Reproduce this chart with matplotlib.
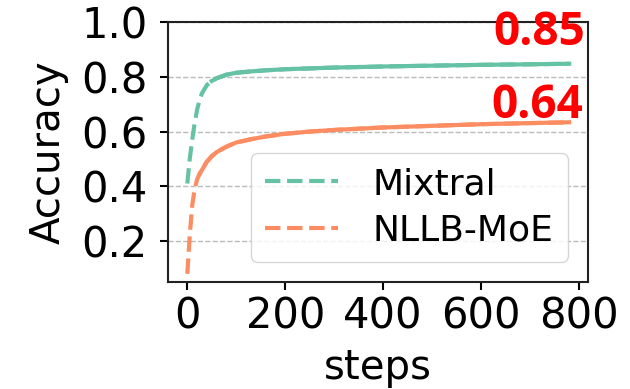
import matplotlib
matplotlib.use("Agg")
import matplotlib.pyplot as plt

# accuracy curves
steps = [0, 5, 10, 15, 20, 25, 30, 40, 50, 60, 80, 100, 130, 160, 200,
         250, 300, 400, 500, 600, 700, 780]
mixtral = [0.41, 0.50, 0.57, 0.63, 0.68, 0.715, 0.74, 0.77, 0.785, 0.795,
           0.808, 0.815, 0.82, 0.824, 0.828, 0.831, 0.834, 0.838, 0.841,
           0.844, 0.846, 0.848]
nllb = [0.08, 0.22, 0.33, 0.39, 0.425, 0.445, 0.46, 0.49, 0.51, 0.525,
        0.545, 0.56, 0.572, 0.582, 0.592, 0.60, 0.606, 0.615, 0.621,
        0.627, 0.631, 0.634]
names = ["Mixtral", "NLLB-MoE"]
colors = ["#66c2a5", "#fc8d62"]
final_labels = ["0.85", "0.64"]
solid_from = [50, 25]  # noisy part of the curve looks solid

fig = plt.figure(figsize=(6.3, 3.89), dpi=100)
ax = fig.add_axes([0.267, 0.275, 0.666, 0.668])

for ys, name, c, s0 in zip([mixtral, nllb], names, colors, solid_from):
    ax.plot(steps, ys, color=c, lw=3, ls="--", label=name)
    i0 = steps.index(s0)
    ax.plot(steps[i0:], ys[i0:], color=c, lw=3, ls="-")

ax.set_ylim(0.05, 1.0)
ax.set_xlim(-39, 818)
ax.set_yticks([0.2, 0.4, 0.6, 0.8, 1.0])
ax.set_xticks([0, 200, 400, 600, 800])
ax.grid(axis="y", ls="--", color="#bbbbbb", lw=1)
ax.tick_params(labelsize=30, length=6, width=1.5)
ax.tick_params(axis="y", pad=9)
ax.tick_params(axis="x", pad=4)
for sp in ax.spines.values():
    sp.set_linewidth(1.5)
    sp.set_color("#222222")
ax.set_ylabel("Accuracy", fontsize=29, labelpad=9)
ax.set_xlabel("steps", fontsize=29, labelpad=7)

leg = ax.legend(loc="lower right", fontsize=26, handlelength=2.0,
                handletextpad=0.97, labelspacing=0.35, frameon=True,
                borderaxespad=0.55)
leg.get_frame().set_edgecolor("#cccccc")

fig.text(0.929, 0.884, final_labels[0], color="red", fontsize=33,
         fontweight="bold", family="Open Sans", ha="right", va="baseline")
fig.text(0.926, 0.697, final_labels[1], color="red", fontsize=33,
         fontweight="bold", family="Open Sans", ha="right", va="baseline")

fig.savefig("out.png", dpi=100)
